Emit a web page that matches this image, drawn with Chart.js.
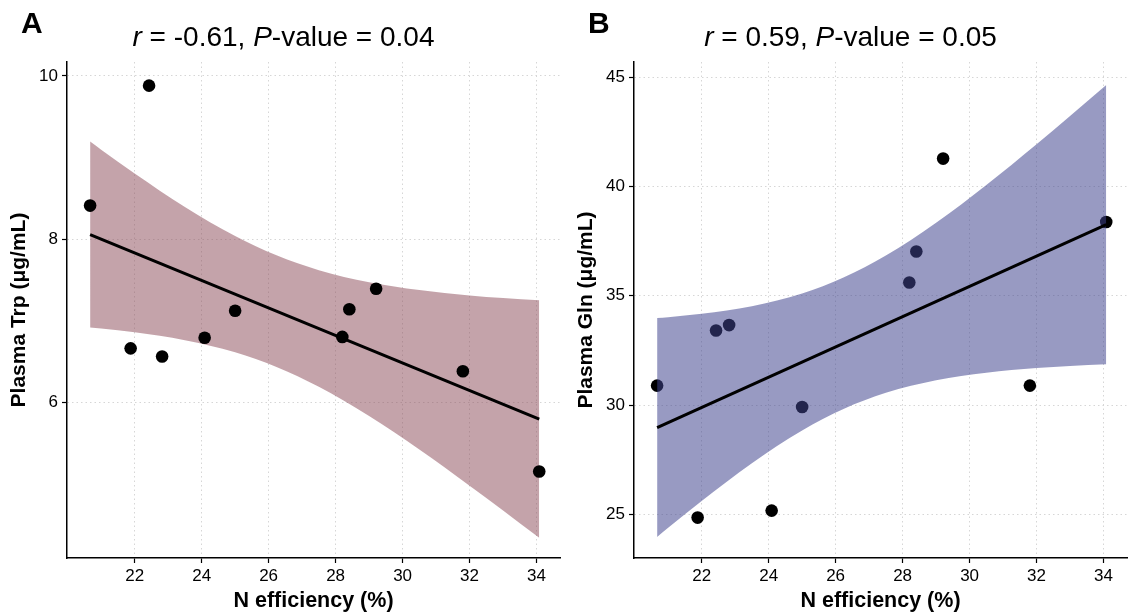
<!DOCTYPE html>
<html>
<head>
<meta charset="utf-8">
<script src="https://cdn.jsdelivr.net/npm/chart.js@4"></script>
<style>
  body { margin: 0; background: #fff; font-family: "Liberation Sans", Arial, sans-serif; }
  .panel { position: absolute; top: 0; width: 567px; height: 614px; }
  .tag { position: absolute; left: 21px; top: 6px; font-size: 30px; font-weight: bold; }
  .title { position: absolute; left: 0; width: 567px; top: 21px; text-align: center; font-size: 28px; }
</style>
</head>
<body>
<div class="panel" style="left:0">
  <canvas id="chartA" width="567" height="614"></canvas>
  <div class="tag">A</div>
  <div class="title"><i>r</i> = -0.61, <i>P</i>-value = 0.04</div>
</div>
<div class="panel" style="left:567px">
  <canvas id="chartB" width="567" height="614"></canvas>
  <div class="tag">B</div>
  <div class="title"><i>r</i> = 0.59, <i>P</i>-value = 0.05</div>
</div>
<script>
// measured values
var nEff = [20.67, 21.88, 22.43, 22.82, 24.09, 25.0, 28.2, 28.41, 29.21, 31.8, 34.08];
var trp = [8.41, 6.66, 9.88, 6.56, 6.79, 7.12, 6.80, 7.14, 7.39, 6.38, 5.15];
var gln = [30.89, 24.85, 33.41, 33.66, 25.17, 29.91, 35.61, 37.03, 41.28, 30.89, 38.38];

// fitted line and 95% band, read at these x positions
var fitX = [20.67, 34.08];
var trpFit = [8.055, 5.793];
var glnFit = [28.972, 38.256];
var bandX = [20.67, 21, 22, 23.5, 25, 26.235, 27.5, 29, 30.5, 32, 33, 34.08];
var trpLow = [6.916, 6.903, 6.856, 6.760, 6.611, 6.432, 6.188, 5.830, 5.420, 4.977, 4.673, 4.338];
var trpHigh = [9.194, 9.095, 8.804, 8.394, 8.037, 7.800, 7.618, 7.470, 7.374, 7.309, 7.277, 7.248];
var glnLow = [23.965, 24.382, 25.613, 27.339, 28.835, 29.818, 30.560, 31.134, 31.482, 31.693, 31.787, 31.862];
var glnHigh = [33.979, 34.020, 34.173, 34.525, 35.105, 35.832, 36.842, 38.344, 40.074, 41.939, 43.229, 44.650];

var xTicks = [22, 24, 26, 28, 30, 32, 34];
var trpTicks = [6, 8, 10];
var glnTicks = [25, 30, 35, 40, 45];

function pairs(xs, ys) {
  return xs.map(function (x, i) { return { x: x, y: ys[i] }; });
}

function makePanel(id, ys, fit, low, high, yMin, yMax, yTicks, yTitle, bandColor, pointsOnTop) {
  var font = "'Liberation Sans', Arial, sans-serif";
  var ctx = document.getElementById(id).getContext("2d");
  return new Chart(ctx, {
    type: "scatter",
    data: {
      datasets: [
        {
          data: pairs(fitX, fit),
          showLine: true,
          borderColor: "#000",
          borderWidth: 3,
          pointRadius: 0,
          order: 0,
        },
        {
          data: pairs(bandX, low),
          showLine: true,
          borderWidth: 0,
          pointRadius: 0,
          cubicInterpolationMode: "monotone",
          fill: false,
          order: 2,
        },
        {
          data: pairs(bandX, high),
          showLine: true,
          borderWidth: 0,
          pointRadius: 0,
          cubicInterpolationMode: "monotone",
          backgroundColor: bandColor,
          fill: "-1",
          order: 2,
        },
        {
          data: pairs(nEff, ys),
          backgroundColor: "#000",
          borderColor: "#000",
          borderWidth: 0,
          pointRadius: 6.3,
          order: pointsOnTop ? 1 : 3,
        },
      ],
    },
    options: {
      responsive: false,
      animation: false,
      layout: { padding: { left: 0, top: 62, right: 7, bottom: 0 } },
      plugins: { legend: { display: false }, tooltip: { enabled: false } },
      scales: {
        x: {
          type: "linear",
          min: 19.98,
          max: 34.70,
          afterBuildTicks: function (s) { s.ticks = xTicks.map(function (v) { return { value: v }; }); },
          afterFit: function (s) { s.height = 56; },
          grid: { color: "#d6d6d6", lineWidth: 1, tickColor: "#000", tickLength: 5, tickWidth: 1.2 },
          border: { display: true, color: "#000", width: 1.5, dash: [1.5, 3] },
          ticks: { color: "#000", font: { family: font, size: 17 }, padding: 3, maxRotation: 0 },
          title: {
            display: true,
            text: "N efficiency (%)",
            color: "#000",
            font: { family: font, size: 21.5, weight: "bold" },
            padding: { top: 0, bottom: 0 },
          },
        },
        y: {
          min: yMin,
          max: yMax,
          afterBuildTicks: function (s) { s.ticks = yTicks.map(function (v) { return { value: v }; }); },
          afterFit: function (s) { s.width = 67; },
          grid: { color: "#d6d6d6", lineWidth: 1, tickColor: "#000", tickLength: 5, tickWidth: 1.2 },
          border: { display: true, color: "#000", width: 1.5, dash: [1.5, 3] },
          ticks: { color: "#000", font: { family: font, size: 17 }, padding: 4 },
          title: {
            display: true,
            text: yTitle,
            color: "#000",
            font: { family: font, size: 21, weight: "bold" },
            padding: { top: 7, bottom: 0 },
          },
        },
      },
    },
  });
}

makePanel("chartA", trp, trpFit, trpLow, trpHigh, 4.09, 10.17, trpTicks,
  "Plasma Trp (μg/mL)", "rgba(137, 71, 85, 0.5)", true);
makePanel("chartB", gln, glnFit, glnLow, glnHigh, 23.0, 45.7, glnTicks,
  "Plasma Gln (μg/mL)", "rgba(65, 69, 142, 0.54)", false);
</script>
</body>
</html>
